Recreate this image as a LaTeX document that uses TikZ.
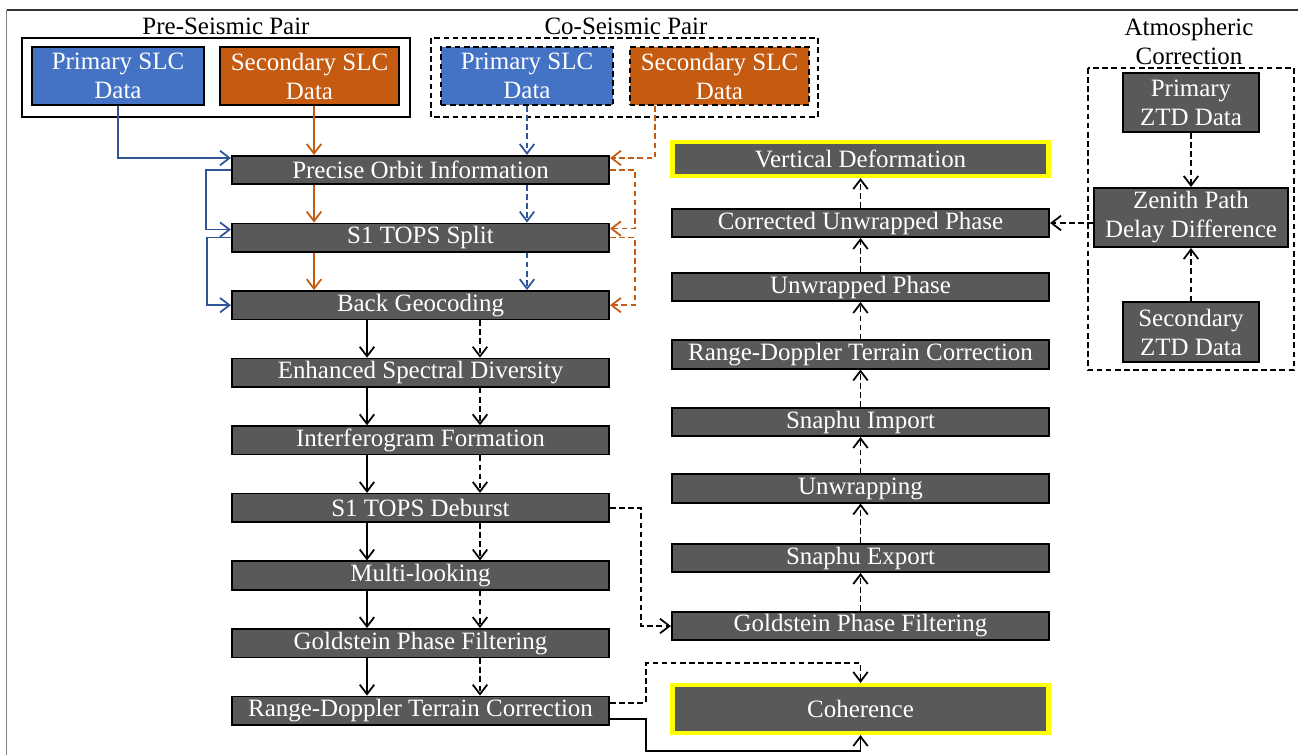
\documentclass[tikz,border=0pt]{standalone}
\usepackage{fontspec}
\setmainfont{Liberation Serif}
\usepackage{tikz}
\usetikzlibrary{arrows.meta,positioning}

\definecolor{stepgray}{HTML}{595959}
\definecolor{slcblue}{HTML}{4472C4}
\definecolor{slcorange}{HTML}{C55A11}
\definecolor{linkblue}{HTML}{2F5597}
\definecolor{hiyellow}{HTML}{FFFF00}

\tikzset{
  process/.style={draw=black, line width=0.9pt, fill=stepgray, text=white,
    minimum width=7.55cm, minimum height=0.57cm, inner sep=0pt,
    font=\fontsize{14.2}{16.5}\selectfont},
  result/.style={process, draw=hiyellow, line width=2.4pt, minimum width=7.52cm},
  slcbox/.style={draw=black, line width=0.9pt, text=white, align=center,
    minimum height=1.17cm, inner sep=0pt, font=\fontsize{14.2}{16.5}\selectfont},
  ztdbox/.style={process, align=center, minimum width=2.73cm, minimum height=1.19cm},
  groupbox/.style={draw=black, line width=0.7pt},
  grouptitle/.style={font=\fontsize{14.2}{16.5}\selectfont, align=center},
  flow/.style={-{Straight Barb[length=1.9mm,width=2.9mm]}, line width=1pt},
  dashline/.style={dash pattern=on 3.2pt off 2pt}
}

\begin{document}
\begin{tikzpicture}
  \useasboundingbox (0,0) rectangle (25.96,-15.1);
  \draw[black!80, line width=0.8pt] (0.13,-0.2) -- (25.96,-0.2);
  \draw[gray, line width=1pt] (0.13,-0.2) -- (0.13,-15.1);

  \node[grouptitle] (pretitle) at (4.52,-0.52) {Pre-Seismic Pair};
  \draw[groupbox] (0.44,-0.76) rectangle (8.2,-2.34);
  \node[slcbox, fill=slcblue, minimum width=3.45cm] (pslc) at (2.36,-1.52) {Primary SLC\\Data};
  \node[slcbox, fill=slcorange, minimum width=3.59cm] (sslc) at (6.19,-1.52) {Secondary SLC\\Data};

  \node[grouptitle] (cotitle) at (12.52,-0.52) {Co-Seismic Pair};
  \draw[groupbox, dashline] (8.62,-0.76) rectangle (16.36,-2.34);
  \node[slcbox, dashline, fill=slcblue, minimum width=3.45cm] (pco) at (10.54,-1.52) {Primary SLC\\Data};
  \node[slcbox, dashline, fill=slcorange, minimum width=3.59cm] (sco) at (14.39,-1.52) {Secondary SLC\\Data};

  \node[grouptitle] (atmtitle) at (23.78,-0.82) {Atmospheric\\Correction};
  \draw[groupbox, dashline] (21.76,-1.36) rectangle (25.88,-7.4);
  \node[ztdbox] (pztd) at (23.82,-2.05) {Primary\\ZTD Data};
  \node[ztdbox, minimum width=3.89cm] (zenith) at (23.82,-4.35) {Zenith Path\\Delay Difference};
  \node[ztdbox] (sztd) at (23.82,-6.64) {Secondary\\ZTD Data};

  \node[process] (orbit) at (8.41,-3.40) {Precise Orbit Information};
  \node[process, below=0.75cm of orbit] (split) {S1 TOPS Split};
  \node[process, below=0.75cm of split] (back) {Back Geocoding};
  \node[process, below=0.75cm of back] (esd) {Enhanced Spectral Diversity};
  \node[process, below=0.75cm of esd] (ifg) {Interferogram Formation};
  \node[process, below=0.75cm of ifg] (deburst) {S1 TOPS Deburst};
  \node[process, below=0.75cm of deburst] (mlook) {Multi-looking};
  \node[process, below=0.75cm of mlook] (gold) {Goldstein Phase Filtering};
  \node[process, below=0.75cm of gold] (rdl) {Range-Doppler Terrain Correction};

  \node[result, minimum height=0.68cm] (vdef) at (17.21,-3.18) {Vertical Deformation};
  \node[process] (cuw) at (17.21,-4.46) {Corrected Unwrapped Phase};
  \node[process] (uwp) at (17.21,-5.74) {Unwrapped Phase};
  \node[process] (rdr) at (17.21,-7.09) {Range-Doppler Terrain Correction};
  \node[process] (simp) at (17.21,-8.44) {Snaphu Import};
  \node[process] (unwr) at (17.21,-9.77) {Unwrapping};
  \node[process] (sexp) at (17.21,-11.16) {Snaphu Export};
  \node[process] (gold2) at (17.21,-12.52) {Goldstein Phase Filtering};
  \node[result, minimum height=0.96cm] (coh) at (17.21,-14.18) {Coherence};

  \coordinate (laneA) at (6.28,0);
  \coordinate (laneB) at (13.1,0);
  \coordinate (laneC) at (7.34,0);
  \coordinate (laneD) at (9.6,0);

  \draw[flow, linkblue] (pslc.south) |- ([yshift=0.24cm]orbit.west);
  \draw[flow, linkblue] (orbit.west) -- ++(-0.5,0) |- ([yshift=0.16cm]split.west);
  \draw[flow, linkblue] (split.west) -- ++(-0.48,0) |- (back.west);

  \draw[flow, slcorange] (sslc.south -| laneA) -- (orbit.north -| laneA);
  \draw[flow, slcorange] (orbit.south -| laneA) -- (split.north -| laneA);
  \draw[flow, slcorange] (split.south -| laneA) -- (back.north -| laneA);

  \draw[flow, dashline, linkblue] (pco.south) -- (pco.south |- orbit.north);
  \draw[flow, dashline, linkblue] (orbit.south -| pco.south) -- (split.north -| pco.south);
  \draw[flow, dashline, linkblue] (split.south -| pco.south) -- (back.north -| pco.south);

  \draw[flow, dashline, slcorange] (sco.south -| laneB) |- ([yshift=0.24cm]orbit.east);
  \draw[flow, dashline, slcorange] (orbit.east) -- ++(0.5,0) |- ([yshift=0.18cm]split.east);
  \draw[flow, dashline, slcorange] (split.east) -- ++(0.5,0) |- (back.east);

  \draw[flow] (back.south -| laneC) -- (esd.north -| laneC);
  \draw[flow] (esd.south -| laneC) -- (ifg.north -| laneC);
  \draw[flow] (ifg.south -| laneC) -- (deburst.north -| laneC);
  \draw[flow] (deburst.south -| laneC) -- (mlook.north -| laneC);
  \draw[flow] (mlook.south -| laneC) -- (gold.north -| laneC);
  \draw[flow] (gold.south -| laneC) -- (rdl.north -| laneC);

  \draw[flow, dashline] (back.south -| laneD) -- (esd.north -| laneD);
  \draw[flow, dashline] (esd.south -| laneD) -- (ifg.north -| laneD);
  \draw[flow, dashline] (ifg.south -| laneD) -- (deburst.north -| laneD);
  \draw[flow, dashline] (deburst.south -| laneD) -- (mlook.north -| laneD);
  \draw[flow, dashline] (mlook.south -| laneD) -- (gold.north -| laneD);
  \draw[flow, dashline] (gold.south -| laneD) -- (rdl.north -| laneD);

  \draw[flow, dashline] (deburst.east) -- ++(0.62,0) |- (gold2.west);

  \draw[flow, dashline] (gold2.north) -- (sexp.south);
  \draw[flow, dashline] (sexp.north) -- (unwr.south);
  \draw[flow, dashline] (unwr.north) -- (simp.south);
  \draw[flow, dashline] (simp.north) -- (rdr.south);
  \draw[flow, dashline] (rdr.north) -- (uwp.south);
  \draw[flow, dashline] (uwp.north) -- (cuw.south);
  \draw[flow, dashline] (cuw.north) -- (vdef.south);

  \draw[flow, dashline] (pztd.south) -- (zenith.north);
  \draw[flow, dashline] (sztd.north) -- (zenith.south);
  \draw[flow, dashline] (cuw.east -| zenith.west) -- (cuw.east);

  \draw[flow, dashline] ([yshift=0.16cm]rdl.east) -- ++(0.72,0) |- ([yshift=0.4cm]coh.north) -- (coh.north);
  \draw[flow] ([yshift=-0.16cm]rdl.east) -- ++(0.72,0) |- ([yshift=-0.32cm]coh.south) -- (coh.south);
\end{tikzpicture}
\end{document}
